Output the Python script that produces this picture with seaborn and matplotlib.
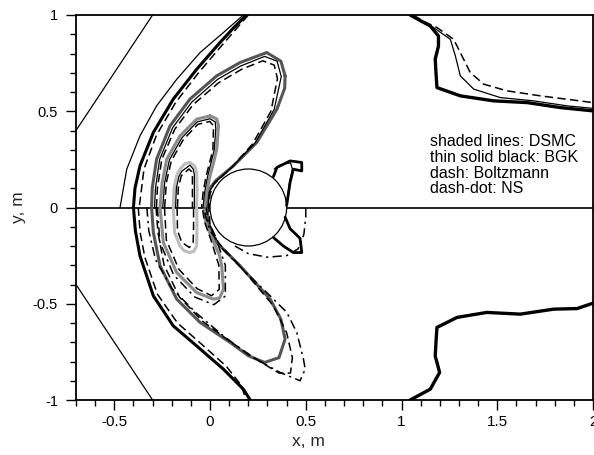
import numpy as np
import matplotlib
matplotlib.use("Agg")
import matplotlib.pyplot as plt
from matplotlib.patches import Circle
import seaborn as sns

# ---- axis ticks -----------------------------------------------------------
x_ticks = [-0.5, 0, 0.5, 1, 1.5, 2]
x_tick_labels = ["-0.5", "0", "0.5", "1", "1.5", "2"]
y_ticks = [-1, -0.5, 0, 0.5, 1]
y_tick_labels = ["-1", "-0.5", "0", "0.5", "1"]

# ---- body and domain ------------------------------------------------------
cyl_center = (0.2, 0.0)
cyl_radius = 0.2
inflow_upper_x = [-0.7, -0.3]
inflow_upper_y = [0.4, 1.0]
inflow_lower_x = [-0.7, -0.3]
inflow_lower_y = [-0.4, -1.0]

# ---- DSMC contours (shaded) ---------------------------------------------
dsmc1_x = [0.19, 0.12, 0.052, -0.07, -0.192, -0.296, -0.366, -0.392, -0.40,
           -0.39, -0.366, -0.296, -0.192, -0.07, 0.07, 0.174, 0.21]
dsmc1_y = [1.0, 0.93, 0.857, 0.718, 0.563, 0.39, 0.216, 0.1, 0.0,
           -0.12, -0.251, -0.459, -0.615, -0.719, -0.84, -0.944, -1.0]

dsmc2_x = [0.392, 0.37, 0.296, 0.157, 0.035, -0.105, -0.209, -0.279, -0.302, -0.305,
           -0.296, -0.261, -0.174, -0.052, 0.105, 0.2, 0.285, 0.36, 0.392, 0.37,
           0.314, 0.157, 0.035, -0.008, -0.016, -0.008, 0.03, 0.122, 0.244, 0.349,
           0.39, 0.392]
dsmc2_y = [0.684, 0.76, 0.805, 0.753, 0.684, 0.563, 0.424, 0.251, 0.1, 0.0,
           -0.13, -0.303, -0.476, -0.597, -0.701, -0.77, -0.805, -0.78, -0.684, -0.58,
           -0.476, -0.303, -0.182, -0.09, 0.0, 0.09, 0.14, 0.216, 0.338, 0.51,
           0.62, 0.684]

dsmc3_x = [0.0, 0.035, 0.044, 0.035, 0.015, 0.0, -0.017, -0.03, -0.022, 0.01, 0.05,
           0.061, 0.07, 0.05, 0.017, -0.07, -0.174, -0.244, -0.261, -0.25, -0.226,
           -0.157, -0.07, 0.0]
dsmc3_y = [0.476, 0.46, 0.424, 0.303, 0.22, 0.164, 0.08, 0.0, -0.08, -0.16, -0.25,
           -0.303, -0.424, -0.47, -0.476, -0.442, -0.338, -0.182, 0.0, 0.13, 0.251,
           0.372, 0.459, 0.476]

dsmc4_x = [-0.105, -0.08, -0.07, -0.068, -0.07, -0.068, -0.07, -0.085, -0.105, -0.135,
           -0.157, -0.185, -0.192, -0.188, -0.175, -0.157, -0.13, -0.105]
dsmc4_y = [0.234, 0.215, 0.182, 0.09, 0.0, -0.1, -0.2, -0.228, -0.234, -0.225,
           -0.2, -0.13, 0.0, 0.1, 0.165, 0.199, 0.228, 0.234]

dsmc_back_up_x = [0.40, 0.418, 0.435, 0.479, 0.479, 0.418, 0.349, 0.331]
dsmc_back_up_y = [0.01, 0.13, 0.199, 0.19, 0.234, 0.242, 0.208, 0.16]
dsmc_back_lo_x = [0.392, 0.418, 0.47, 0.479, 0.435, 0.383, 0.331]
dsmc_back_lo_y = [-0.05, -0.11, -0.16, -0.234, -0.234, -0.2, -0.156]

dsmc_wake_up_x = [1.045, 1.10, 1.15, 1.193, 1.193, 1.176, 1.18, 1.185, 1.307, 1.481,
                  1.656, 1.83, 2.0]
dsmc_wake_up_y = [1.0, 0.97, 0.943, 0.891, 0.839, 0.771, 0.7, 0.623, 0.58, 0.554,
                  0.545, 0.519, 0.502]
dsmc_wake_lo_x = [1.045, 1.15, 1.199, 1.176, 1.18, 1.185, 1.29, 1.446, 1.62, 1.795,
                  1.917, 2.0]
dsmc_wake_lo_y = [-1.0, -0.944, -0.857, -0.771, -0.7, -0.623, -0.571, -0.545, -0.554,
                  -0.528, -0.525, -0.497]

# ---- BGK contours (thin solid, upper half) -------------------------------
bgk1_x = [0.174, 0.07, -0.052, -0.174, -0.279, -0.366, -0.435, -0.47]
bgk1_y = [1.0, 0.909, 0.805, 0.666, 0.528, 0.372, 0.199, 0.0]
bgk2_x = [-0.29, -0.285, -0.263, -0.195, -0.095, 0.04, 0.16, 0.285, 0.35, 0.372,
          0.335, 0.235, 0.115, 0.025, -0.004, -0.01]
bgk2_y = [0.0, 0.1, 0.25, 0.415, 0.548, 0.666, 0.735, 0.785, 0.76, 0.68,
          0.51, 0.335, 0.21, 0.13, 0.08, 0.0]
bgk3_x = [-0.247, -0.237, -0.212, -0.147, -0.067, 0.0, 0.027, 0.03, 0.022, -0.012,
          -0.028, -0.037]
bgk3_y = [0.0, 0.13, 0.248, 0.362, 0.445, 0.461, 0.445, 0.41, 0.3, 0.165, 0.08, 0.0]
bgk4_x = [-0.18, -0.176, -0.163, -0.148, -0.105, -0.088, -0.082, -0.082]
bgk4_y = [0.0, 0.1, 0.16, 0.188, 0.22, 0.2, 0.17, 0.0]
bgk_back_x = [0.335, 0.37, 0.42, 0.43, 0.415, 0.40]
bgk_back_y = [0.2, 0.222, 0.232, 0.2, 0.13, 0.02]
bgk_wake_x = [1.045, 1.10, 1.167, 1.255, 1.281, 1.307, 1.377, 1.516, 1.69, 1.865, 2.0]
bgk_wake_y = [1.0, 0.97, 0.935, 0.874, 0.788, 0.684, 0.615, 0.571, 0.554, 0.528, 0.515]

# ---- Boltzmann contours (dashed) -----------------------------------------
boltz1_up_x = [0.2, 0.13, 0.06, -0.06, -0.18, -0.28, -0.345, -0.37]
boltz1_up_y = [1.0, 0.92, 0.84, 0.70, 0.545, 0.375, 0.2, 0.0]
boltz1_lo_x = [-0.375, -0.365, -0.34, -0.275, -0.17, -0.05, 0.085, 0.16, 0.19]
boltz1_lo_y = [0.0, -0.13, -0.26, -0.45, -0.6, -0.705, -0.825, -0.92, -1.0]
boltz2_up_x = [-0.28, -0.275, -0.252, -0.185, -0.088, 0.045, 0.165, 0.275, 0.335, 0.352,
               0.318, 0.222, 0.105, 0.018, 0.0, -0.005]
boltz2_up_y = [0.0, 0.1, 0.25, 0.405, 0.535, 0.648, 0.718, 0.762, 0.74, 0.67,
               0.5, 0.33, 0.2, 0.12, 0.07, 0.0]
boltz2_lo_x = [-0.282, -0.272, -0.24, -0.16, -0.04, 0.11, 0.26, 0.36, 0.42, 0.43,
               0.4, 0.33, 0.17, 0.045, 0.0, -0.006]
boltz2_lo_y = [0.0, -0.13, -0.3, -0.465, -0.59, -0.7, -0.8, -0.86, -0.86, -0.78,
               -0.65, -0.51, -0.32, -0.185, -0.09, 0.0]
boltz3_up_x = [-0.237, -0.228, -0.202, -0.14, -0.064, -0.002, 0.018, 0.015, -0.02,
               -0.036, -0.044]
boltz3_up_y = [0.0, 0.13, 0.243, 0.352, 0.432, 0.447, 0.425, 0.3, 0.165, 0.08, 0.0]
boltz3_lo_x = [-0.238, -0.228, -0.162, -0.067, 0.008, 0.048, 0.046, 0.002, -0.03, -0.04]
boltz3_lo_y = [0.0, -0.17, -0.322, -0.422, -0.458, -0.425, -0.3, -0.16, -0.07, 0.0]
boltz4_up_x = [-0.17, -0.166, -0.15, -0.11, -0.095, -0.092, -0.092]
boltz4_up_y = [0.0, 0.1, 0.165, 0.2, 0.185, 0.16, 0.0]
boltz4_lo_x = [-0.172, -0.17, -0.148, -0.108, -0.088, -0.086, -0.086]
boltz4_lo_y = [0.0, -0.12, -0.18, -0.208, -0.18, -0.1, 0.0]
boltz_wake_x = [1.06, 1.12, 1.185, 1.272, 1.324, 1.359, 1.429, 1.551, 1.725, 2.0]
boltz_wake_y = [1.0, 0.965, 0.935, 0.874, 0.771, 0.701, 0.641, 0.606, 0.58, 0.545]

# ---- Navier-Stokes contours (dash-dot, lower half) -----------------------
ns2_x = [-0.33, -0.32, -0.285, -0.2, -0.07, 0.07, 0.209, 0.366, 0.47, 0.497, 0.488,
         0.453, 0.401, 0.314, 0.18, 0.07, 0.0, -0.025, -0.03]
ns2_y = [0.0, -0.12, -0.27, -0.42, -0.55, -0.667, -0.771, -0.857, -0.9, -0.84, -0.788,
         -0.649, -0.545, -0.459, -0.33, -0.22, -0.12, -0.04, 0.0]
ns3_x = [-0.275, -0.262, -0.19, -0.08, 0.02, 0.08, 0.08, 0.03, -0.01, -0.02]
ns3_y = [0.0, -0.18, -0.35, -0.465, -0.505, -0.46, -0.3, -0.16, -0.07, 0.0]
ns_back_x = [0.13, 0.2, 0.3, 0.4, 0.46, 0.49, 0.5, 0.5]
ns_back_y = [-0.2, -0.24, -0.258, -0.25, -0.215, -0.14, -0.05, 0.0]

legend_lines = ["shaded lines: DSMC", "thin solid black: BGK",
                "dash: Boltzmann", "dash-dot: NS"]

# ---- figure ---------------------------------------------------------------
sns.set_theme(style="white")
plt.rcParams["font.family"] = ["Liberation Sans", "DejaVu Sans"]
plt.rcParams["axes.unicode_minus"] = False

fig = plt.figure(figsize=(5.94, 4.55), dpi=100)
ax = fig.add_axes([76 / 594, 1 - 400 / 455, 517 / 594, 385 / 455])

LIGHT, MID, DARK, BLACK = "#bdbdbd", "#8c8c8c", "#555555", "#000000"
DASH = (0, (5.5, 2.8))
DASHDOT = (0, (6, 2.8, 1.5, 2.8))


def trace(xs, ys, color, lw, ls="-", z=3):
    sns.lineplot(x=np.asarray(xs), y=np.asarray(ys), sort=False, estimator=None,
                 color=color, linewidth=lw, linestyle=ls, ax=ax, legend=False,
                 zorder=z, solid_joinstyle="round", solid_capstyle="round")


# symmetry line and inflow boundaries
ax.plot([-0.7, 2.0], [0, 0], color="black", lw=1.2, zorder=1)
trace(inflow_upper_x, inflow_upper_y, "black", 0.9)
trace(inflow_lower_x, inflow_lower_y, "black", 0.9)

# cylinder
ax.add_patch(Circle(cyl_center, cyl_radius, facecolor="white", edgecolor="black",
                    lw=0.9, zorder=2))

# DSMC
trace(dsmc1_x, dsmc1_y, BLACK, 2.2)
trace(dsmc2_x, dsmc2_y, DARK, 2.2)
trace(dsmc3_x, dsmc3_y, MID, 2.2)
trace(dsmc4_x, dsmc4_y, LIGHT, 2.2)
trace(dsmc_back_up_x, dsmc_back_up_y, BLACK, 2.0)
trace(dsmc_back_lo_x, dsmc_back_lo_y, BLACK, 2.0)
trace(dsmc_wake_up_x, dsmc_wake_up_y, BLACK, 2.4)
trace(dsmc_wake_lo_x, dsmc_wake_lo_y, BLACK, 2.4)

# BGK
for xs, ys in [(bgk1_x, bgk1_y), (bgk2_x, bgk2_y), (bgk3_x, bgk3_y),
               (bgk4_x, bgk4_y), (bgk_back_x, bgk_back_y), (bgk_wake_x, bgk_wake_y)]:
    trace(xs, ys, "black", 0.9, z=4)

# Boltzmann
for xs, ys in [(boltz1_up_x, boltz1_up_y), (boltz1_lo_x, boltz1_lo_y),
               (boltz2_up_x, boltz2_up_y), (boltz2_lo_x, boltz2_lo_y),
               (boltz3_up_x, boltz3_up_y), (boltz3_lo_x, boltz3_lo_y),
               (boltz4_up_x, boltz4_up_y), (boltz4_lo_x, boltz4_lo_y),
               (boltz_wake_x, boltz_wake_y)]:
    trace(xs, ys, "black", 1.1, ls=DASH, z=4)

# Navier-Stokes
for xs, ys in [(ns2_x, ns2_y), (ns3_x, ns3_y), (ns_back_x, ns_back_y)]:
    trace(xs, ys, "black", 1.1, ls=DASHDOT, z=4)

# legend text
for i, line in enumerate(legend_lines):
    ax.text(1.15, 0.341 - i * 0.0815, line, fontsize=11.5, va="center", ha="left",
            color="black")

ax.set_xlim(-0.7, 2.0)
ax.set_ylim(-1.0, 1.0)
ax.set_xticks(x_ticks)
ax.set_xticklabels(x_tick_labels)
ax.set_yticks(y_ticks)
ax.set_yticklabels(y_tick_labels)
ax.set_xticks(np.round(np.arange(-0.7, 2.01, 0.1), 2), minor=True)
ax.set_yticks(np.round(np.arange(-1.0, 1.01, 0.1), 2), minor=True)
ax.tick_params(which="both", direction="out", bottom=True, left=True, top=False,
               right=False, colors="black", width=1.0)
ax.tick_params(which="major", length=7)
ax.tick_params(which="minor", length=4)
ax.tick_params(axis="x", pad=3.5, labelsize=11)
ax.tick_params(axis="y", pad=6, labelsize=10.5)
for s in ax.spines.values():
    s.set_color("black")
    s.set_linewidth(1.3)

ax.set_xlabel("x, m", fontsize=12.5, va="center")
ax.set_ylabel("y, m", fontsize=12.5, va="center")
ax.xaxis.set_label_coords((308 - 76) / 517, (400 - 441) / 385)
ax.yaxis.set_label_coords((19 - 76) / 517, 0.5)

fig.savefig("out.png", dpi=100)
